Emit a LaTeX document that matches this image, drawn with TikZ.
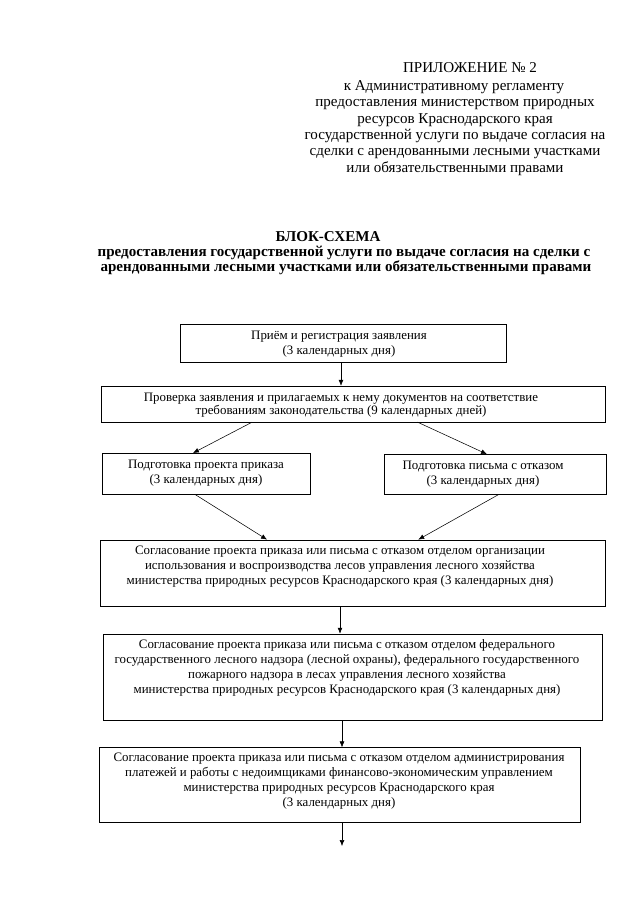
\documentclass[tikz,border=0pt]{standalone}
\usepackage{fontspec}
\setmainfont{Liberation Serif}
\usetikzlibrary{arrows.meta,calc}
\def\U{0.9297pt}
\begin{document}
\begin{tikzpicture}[x=0.9297pt,y=-0.9297pt,
  box/.style={draw=black, line width=0.6pt, inner sep=0pt},
  txt/.style={inner sep=0pt, align=center, font=\fontsize{12}{14}\selectfont},
  arr/.style={line width=0.5pt, -{Latex[length=5.5pt,width=4.5pt]}},
  hdr/.style={inner sep=0pt, anchor=base, font=\fontsize{14}{17}\selectfont},
  ttl/.style={inner sep=0pt, anchor=base, font=\fontsize{14}{17}\selectfont\bfseries}]
\useasboundingbox (0,0) rectangle (640,905);

% header
\node[hdr] (h1) at (470,72.3) {ПРИЛОЖЕНИЕ № 2};
\node[hdr] (h2) at (454,90.5) {к Административному регламенту};
\node[hdr] (h3) at (455,106.8) {предоставления министерством природных};
\node[hdr] (h4) at (455,123.1) {ресурсов Краснодарского края};
\node[hdr] (h5) at (455,139.4) {государственной услуги по выдаче согласия на};
\node[hdr] (h6) at (455,155.7) {сделки с арендованными лесными участками};
\node[hdr] (h7) at (455,172) {или обязательственными правами};

% title
\node[ttl] (t0) at (328,241.7) {БЛОК-СХЕМА};
\node[ttl] (t0b) at (344,256.7) {предоставления государственной услуги по выдаче согласия на сделки с};
\node[ttl] (t0c) at (346,271.7) {арендованными лесными участками или обязательственными правами};

% boxes
\node[box, minimum width=326*\U, minimum height=37.7*\U] (b1) at (343,343) {};
\node[box, minimum width=504*\U, minimum height=35.7*\U] (b2) at (353,404) {};
\node[box, minimum width=208*\U, minimum height=40.7*\U] (b3) at (206,473.7) {};
\node[box, minimum width=222*\U, minimum height=40*\U] (b4) at (495,474.5) {};
\node[box, minimum width=505*\U, minimum height=66.7*\U] (b5) at (352.5,573.3) {};
\node[box, minimum width=499*\U, minimum height=86*\U] (b6) at (352.5,677) {};
\node[box, minimum width=481*\U, minimum height=74.6*\U] (b7) at (339.5,785) {};

% texts
\node[txt] (x1) at (339,344.5) {Приём и регистрация заявления\\(3 календарных дня)};
\node[txt, font=\fontsize{12}{12.4}\selectfont] (x2) at (341,405.3) {Проверка заявления и прилагаемых к нему документов на соответствие\\требованиям законодательства (9 календарных дней)};
\node[txt] (x3) at (206,473.5) {Подготовка проекта приказа\\(3 календарных дня)};
\node[txt] (x4) at (483,474) {Подготовка письма с отказом\\(3 календарных дня)};
\node[txt] (x5) at (340,567) {Согласование проекта приказа или письма с отказом отделом организации\\использования и воспроизводства лесов управления лесного хозяйства\\министерства природных ресурсов Краснодарского края (3 календарных дня)};
\node[txt] (x6) at (347,667.5) {Согласование проекта приказа или письма с отказом отделом федерального\\государственного лесного надзора (лесной охраны), федерального государственного\\пожарного надзора в лесах управления лесного хозяйства\\министерства природных ресурсов Краснодарского края (3 календарных дня)};
\node[txt] (x7) at (339,780.7) {Согласование проекта приказа или письма с отказом отделом администрирования\\платежей и работы с недоимщиками финансово-экономическим управлением\\министерства природных ресурсов Краснодарского края\\(3 календарных дня)};

% connectors
\coordinate (ax1) at (341,0);
\coordinate (ax2) at (340,0);
\coordinate (ax3) at (342,0);
\coordinate (endp) at (342,846);
\draw[arr] (b1.south -| ax1) -- (b2.north -| ax1);
\draw[arr] ($(b2.south west)!0.30!(b2.south east)$) -- ($(b3.north west)!0.4375!(b3.north east)$);
\draw[arr] ($(b2.south west)!0.628!(b2.south east)$) -- ($(b4.north west)!0.464!(b4.north east)$);
\draw[arr] ($(b3.south west)!0.447!(b3.south east)$) -- ($(b5.north west)!0.331!(b5.north east)$);
\draw[arr] ($(b4.south west)!0.514!(b4.south east)$) -- ($(b5.north west)!0.63!(b5.north east)$);
\draw[arr] (b5.south -| ax2) -- (b6.north -| ax2);
\draw[arr] (b6.south -| ax3) -- (b7.north -| ax3);
\draw[arr] (b7.south -| ax3) -- (endp);
\end{tikzpicture}
\end{document}
